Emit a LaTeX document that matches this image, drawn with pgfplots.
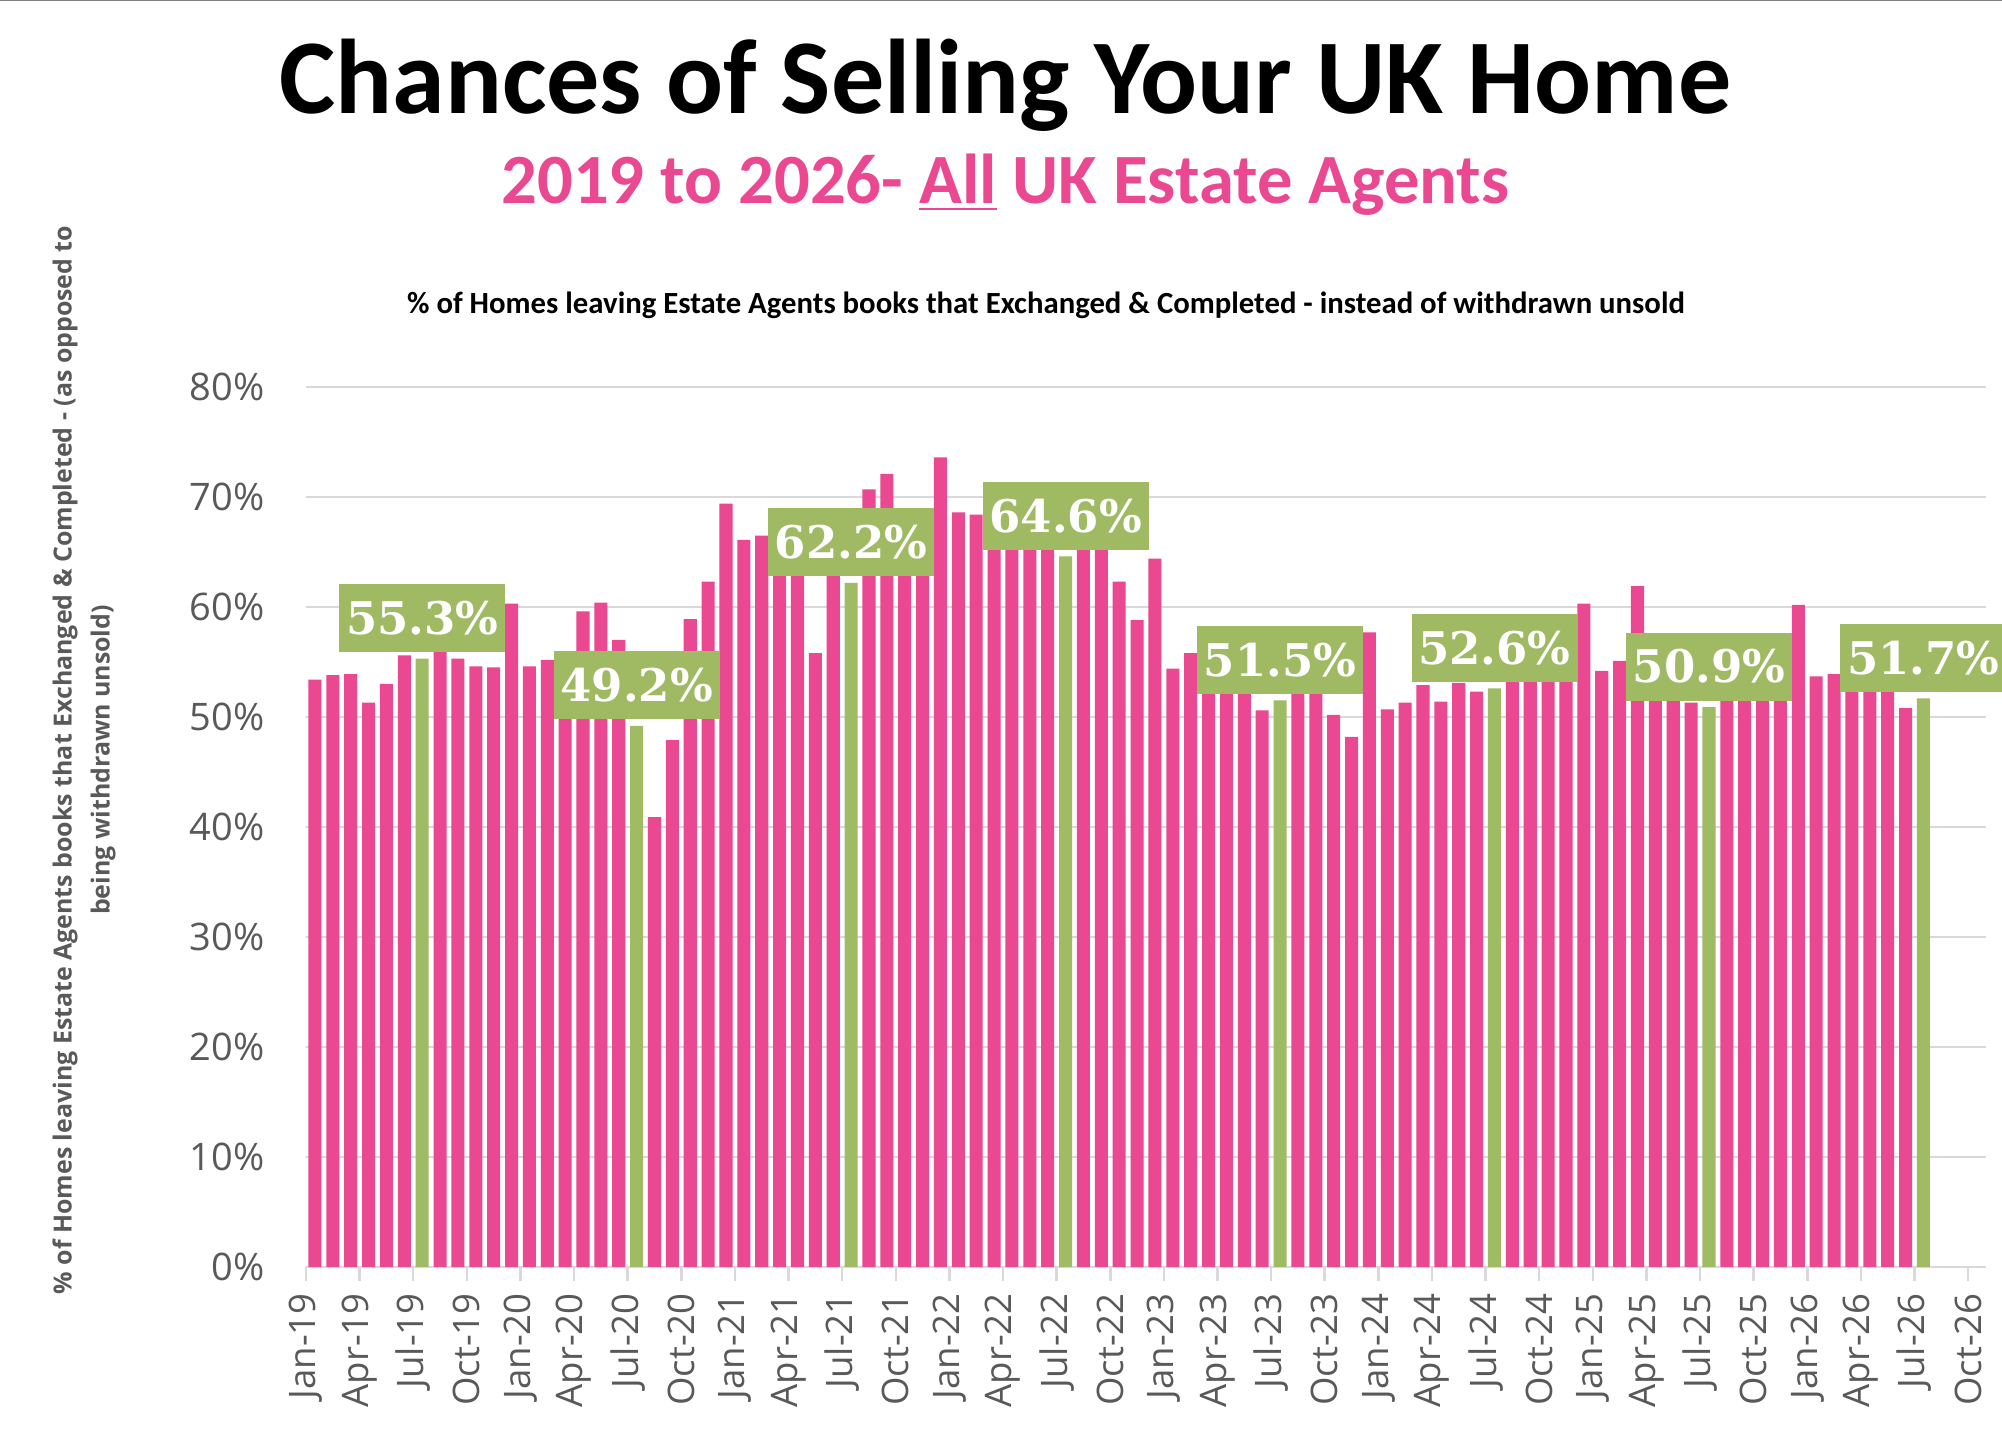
\documentclass[border=0pt]{standalone}
\usepackage{fontspec}
\usepackage{pgfplots}
\usepackage{pgfplotstable}
\pgfplotsset{compat=1.18}
\newfontfamily\carlito{Carlito}
\newfontfamily\osans{Open Sans}
\newfontfamily\dvserif{DejaVu Serif}
\definecolor{barpink}{HTML}{EA4891}
\definecolor{bargreen}{HTML}{9FBB63}
\definecolor{labelgreen}{HTML}{A0BA64}
\definecolor{gridgray}{HTML}{D9D9D9}
\definecolor{textgray}{HTML}{595959}

\pgfplotstableread{
x y
0.5 53.4
1.5 53.8
2.5 53.9
3.5 51.3
4.5 53.0
5.5 55.6
7.5 55.9
8.5 55.3
9.5 54.6
10.5 54.5
11.5 60.3
12.5 54.6
13.5 55.2
14.5 53.5
15.5 59.6
16.5 60.4
17.5 57.0
19.5 40.9
20.5 47.9
21.5 58.9
22.5 62.3
23.5 69.4
24.5 66.1
25.5 66.5
26.5 65.0
27.5 64.0
28.5 55.8
29.5 65.5
31.5 70.7
32.5 72.1
33.5 67.5
34.5 66.5
35.5 73.6
36.5 68.6
37.5 68.4
38.5 67.5
39.5 66.5
40.5 66.0
41.5 66.0
43.5 66.0
44.5 65.5
45.5 62.3
46.5 58.8
47.5 64.4
48.5 54.4
49.5 55.8
50.5 54.5
51.5 53.5
52.5 53.0
53.5 50.6
55.5 53.0
56.5 52.5
57.5 50.2
58.5 48.2
59.5 57.7
60.5 50.7
61.5 51.3
62.5 52.9
63.5 51.4
64.5 53.1
65.5 52.3
67.5 54.0
68.5 54.5
69.5 55.0
70.5 54.5
71.5 60.3
72.5 54.2
73.5 55.1
74.5 61.9
75.5 53.5
76.5 52.5
77.5 51.3
79.5 52.5
80.5 53.0
81.5 53.5
82.5 53.5
83.5 60.2
84.5 53.7
85.5 53.9
86.5 54.0
87.5 53.5
88.5 53.0
89.5 50.8
}\pinkdata

\pgfplotstableread{
x y
6.5 55.3
18.5 49.2
30.5 62.2
42.5 64.6
54.5 51.5
66.5 52.6
78.5 50.9
90.5 51.7
}\greendata

\begin{document}
\begin{tikzpicture}
\useasboundingbox (0,0) rectangle (200.2mm,144.6mm);
\fill[white] (0,0) rectangle (200.2mm,144.6mm);
\draw[gray, line width=0.3mm] (0,144.6mm) -- (200.2mm,144.6mm);

\node[anchor=base, font=\carlito\bfseries\fontsize{30.2}{34}\selectfont] at (100.55mm,133.2mm) {Chances of Selling Your UK Home};
\node[anchor=base, text=barpink, font=\carlito\bfseries\fontsize{20.1}{23}\selectfont] at (100.55mm,124.2mm) {2019 to 2026- \underline{All} UK Estate Agents};
\node[anchor=base, font=\carlito\bfseries\fontsize{8.75}{10}\selectfont] at (104.6mm,113.2mm) {\% of Homes leaving Estate Agents books that Exchanged \& Completed - instead of withdrawn unsold};

\node[rotate=90, align=center, text=textgray, font=\osans\bfseries\fontsize{7.1}{10.8}\selectfont] at (8.4mm,68.6mm) {\% of Homes leaving Estate Agents books that Exchanged \& Completed - (as opposed to\\being withdrawn unsold)};

\begin{axis}[
  at={(30.6mm,17.9mm)}, anchor=south west,
  scale only axis, width=168mm, height=88mm,
  xmin=0, xmax=94, ymin=0, ymax=80,
  axis x line*=bottom, axis y line*=left,
  x axis line style={draw=gridgray, line width=0.25mm},
  y axis line style={draw=none},
  ytick={0,10,...,80},
  yticklabels={0\%,10\%,20\%,30\%,40\%,50\%,60\%,70\%,80\%},
  ytick style={draw=none},
  ymajorgrids, grid style={gridgray, line width=0.2mm},
  xtick={0,3,...,93},
  xticklabels={Jan-19,Apr-19,Jul-19,Oct-19,Jan-20,Apr-20,Jul-20,Oct-20,Jan-21,Apr-21,Jul-21,Oct-21,Jan-22,Apr-22,Jul-22,Oct-22,Jan-23,Apr-23,Jul-23,Oct-23,Jan-24,Apr-24,Jul-24,Oct-24,Jan-25,Apr-25,Jul-25,Oct-25,Jan-26,Apr-26,Jul-26,Oct-26},
  xtick style={draw=gridgray, line width=0.25mm},
  tick align=outside, major tick length=1.4mm,
  xticklabel style={rotate=90, anchor=east, font=\osans\fontsize{10.4}{12}\selectfont, text=textgray},
  yticklabel style={font=\osans\fontsize{10.8}{12}\selectfont, text=textgray, xshift=-1.5mm},
  ybar, bar width=0.73, bar shift=0pt,
  clip=false,
]
\addplot[fill=barpink, draw=none] table {\pinkdata};
\addplot[fill=bargreen, draw=none,
  nodes near coords={\pgfmathprintnumber[fixed,fixed zerofill,precision=1,assume math mode=true]{\pgfplotspointmeta}\%},
  every node near coord/.append style={fill=labelgreen, text=white, font=\dvserif\bfseries\fontsize{12.8}{13}\selectfont, minimum width=16.6mm, minimum height=6.8mm, inner sep=0pt, anchor=center, yshift=4.05mm}
] table {\greendata};
\end{axis}
\end{tikzpicture}
\end{document}
